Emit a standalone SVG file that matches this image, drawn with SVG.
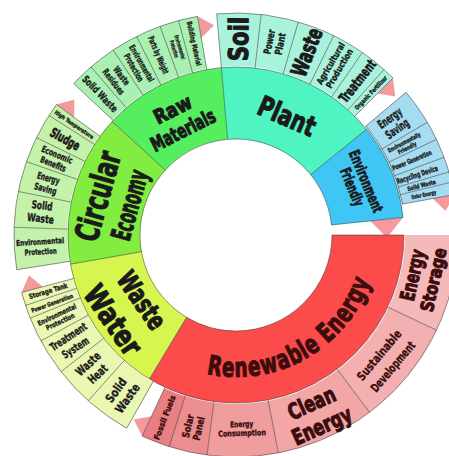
<svg xmlns="http://www.w3.org/2000/svg" width="449" height="456" viewBox="0 0 449 456">
<defs>
<style>
.band{fill:none}
.in{stroke-width:72}
.out{stroke-width:53}
.ol{fill:none;stroke:#2a2a2a;stroke-opacity:.6;stroke-width:.8}
.t{font-family:"Liberation Sans Narrow","DejaVu Sans Condensed","Liberation Sans",sans-serif;font-weight:bold;text-anchor:middle;dominant-baseline:central;fill:#1a1a1a;stroke:#1a1a1a;stroke-width:.35;stroke-linejoin:round}
.r{fill:#3b0d0d;stroke:#3b0d0d}
.big{stroke-width:1.1}
.mid{stroke-width:.7}
.arrow{fill:#f59a9c}
</style>
<path id="re-arc" d="M -46.2,123.6 A 132 132 0 0 0 129.8,24.1"/>
</defs>
<rect width="449" height="456" fill="#fff"/>
<g transform="translate(236,235)">

<!-- pointer tabs at the clockwise end of each ring -->
<g id="connectors">
<polygon class="arrow" points="200,0 222,0 210.5,14.7" transform="rotate(-100)"/>
<polygon class="arrow" points="200,0 222,0 210.5,14.7" transform="rotate(-45)"/>
<polygon class="arrow" points="200,0 222,0 210.5,14.7" transform="rotate(-10.5)"/>
<polygon class="arrow" points="200,0 222,0 210.5,14.7" transform="rotate(115)"/>
<polygon class="arrow" points="200,0 222,0 210.5,14.7" transform="rotate(165)"/>
<polygon class="arrow" points="200,0 222,0 210.5,14.7" transform="rotate(216)"/>
<polygon class="arrow" points="135,0 168,0 149.9,18.4" transform="rotate(-6)"/>
</g>

<!-- inner ring -->
<g id="raw-materials">
<circle class="band in" r="132" pathLength="360" stroke-dasharray="42.5 317.5" transform="rotate(-137.5)" stroke="#55ee5f"/>
<text class="t big" font-size="20" y="-11.5" textLength="40" lengthAdjust="spacingAndGlyphs" transform="rotate(-116.8) translate(129,0) rotate(90)">Raw</text>
<text class="t big" font-size="20" y="11.5" textLength="70" lengthAdjust="spacingAndGlyphs" transform="rotate(-116.8) translate(129,0) rotate(90)">Materials</text>
</g>
<g id="plant">
<circle class="band in" r="132" pathLength="360" stroke-dasharray="56 304" transform="rotate(-95)" stroke="#50f4c2"/>
<text class="t big" font-size="28" textLength="60" lengthAdjust="spacingAndGlyphs" transform="rotate(-66.8) translate(129,0) rotate(90)">Plant</text>
</g>
<g id="environment-friendly">
<circle class="band in" r="132" pathLength="360" stroke-dasharray="33 327" transform="rotate(-39)" stroke="#40c6f4"/>
<text class="t mid" font-size="15" y="-7.5" textLength="66" lengthAdjust="spacingAndGlyphs" transform="rotate(-22.5) translate(133,0) rotate(90)">Environment</text>
<text class="t mid" font-size="15" y="7.5" textLength="40" lengthAdjust="spacingAndGlyphs" transform="rotate(-22.5) translate(133,0) rotate(90)">Friendly</text>
</g>
<g id="renewable-energy">
<circle class="band in" r="132" pathLength="360" stroke-dasharray="121 239" transform="rotate(0)" stroke="#fb4b4b"/>
<text class="t r big" font-size="27" textLength="192" lengthAdjust="spacingAndGlyphs"><textPath href="#re-arc" startOffset="50%">Renewable Energy</textPath></text>
</g>
<g id="waste-water">
<circle class="band in" r="132" pathLength="360" stroke-dasharray="49 311" transform="rotate(121)" stroke="#d6f64f"/>
<text class="t big" font-size="27" y="-17.5" textLength="64" lengthAdjust="spacingAndGlyphs" transform="rotate(145.3) translate(132,0) rotate(-90)">Waste</text>
<text class="t big" font-size="30" y="17.5" textLength="78" lengthAdjust="spacingAndGlyphs" transform="rotate(145.3) translate(132,0) rotate(-90)">Water</text>
</g>
<g id="circular-economy">
<circle class="band in" r="132" pathLength="360" stroke-dasharray="52.5 307.5" transform="rotate(170)" stroke="#82ec40"/>
<text class="t big" font-size="33" y="-16.5" textLength="92" lengthAdjust="spacingAndGlyphs" transform="rotate(195.7) translate(127,0) rotate(90)">Circular</text>
<text class="t big" font-size="27" y="16.5" textLength="72" lengthAdjust="spacingAndGlyphs" transform="rotate(195.7) translate(127,0) rotate(90)">Economy</text>
</g>

<!-- outer ring: raw materials -->
<g id="rm-solid-waste">
<circle class="band out" r="195.5" pathLength="360" stroke-dasharray="6.2 353.8" transform="rotate(-137)" stroke="#aaf0b2"/>
<text class="t" font-size="10" textLength="46" lengthAdjust="spacingAndGlyphs" transform="rotate(-133.9) translate(196,0) rotate(180)">Solid Waste</text>
</g>
<g id="rm-waste-residues">
<circle class="band out" r="195.5" pathLength="360" stroke-dasharray="7.2 352.8" transform="rotate(-130.8)" stroke="#aaf0b2"/>
<text class="t" font-size="9" y="-5" textLength="21" lengthAdjust="spacingAndGlyphs" transform="rotate(-127.2) translate(196,0) rotate(180)">Waste</text>
<text class="t" font-size="9" y="5" textLength="30" lengthAdjust="spacingAndGlyphs" transform="rotate(-127.2) translate(196,0) rotate(180)">Residues</text>
</g>
<g id="rm-environmental-protection">
<circle class="band out" r="195.5" pathLength="360" stroke-dasharray="7 353" transform="rotate(-123.6)" stroke="#aaf0b2"/>
<text class="t" font-size="8.5" y="-4.5" textLength="41" lengthAdjust="spacingAndGlyphs" transform="rotate(-120.1) translate(196,0) rotate(180)">Environmental</text>
<text class="t" font-size="8.5" y="4.5" textLength="31" lengthAdjust="spacingAndGlyphs" transform="rotate(-120.1) translate(196,0) rotate(180)">Protection</text>
</g>
<g id="rm-parts-by-weight">
<circle class="band out" r="195.5" pathLength="360" stroke-dasharray="6.6 353.4" transform="rotate(-116.6)" stroke="#aaf0b2"/>
<text class="t" font-size="8.5" textLength="40" lengthAdjust="spacingAndGlyphs" transform="rotate(-113.3) translate(196,0) rotate(180)">Parts by Weight</text>
</g>
<g id="rm-environmental-protection-2">
<circle class="band out" r="195.5" pathLength="360" stroke-dasharray="5 355" transform="rotate(-110)" stroke="#aaf0b2"/>
<text class="t" font-size="5.5" y="-3" textLength="25" lengthAdjust="spacingAndGlyphs" transform="rotate(-107.5) translate(196,0) rotate(180)">Environmental</text>
<text class="t" font-size="5.5" y="3" textLength="18" lengthAdjust="spacingAndGlyphs" transform="rotate(-107.5) translate(196,0) rotate(180)">Protection</text>
</g>
<g id="rm-building-material">
<circle class="band out" r="195.5" pathLength="360" stroke-dasharray="5 355" transform="rotate(-105)" stroke="#aaf0b2"/>
<text class="t" font-size="7" textLength="45" lengthAdjust="spacingAndGlyphs" transform="rotate(-102.5) translate(196,0) rotate(180)">Building Material</text>
</g>

<!-- outer ring: plant -->
<g id="pl-soil">
<circle class="band out" r="195.5" pathLength="360" stroke-dasharray="11.5 348.5" transform="rotate(-95)" stroke="#a9f3dc"/>
<text class="t big" font-size="27" textLength="44" lengthAdjust="spacingAndGlyphs" transform="rotate(-89.25) translate(196,0)">Soil</text>
</g>
<g id="pl-power-plant">
<circle class="band out" r="195.5" pathLength="360" stroke-dasharray="9.8 350.2" transform="rotate(-83.5)" stroke="#a9f3dc"/>
<text class="t" font-size="10" y="-5.5" textLength="25" lengthAdjust="spacingAndGlyphs" transform="rotate(-78.6) translate(196,0)">Power</text>
<text class="t" font-size="10" y="5.5" textLength="22" lengthAdjust="spacingAndGlyphs" transform="rotate(-78.6) translate(196,0)">Plant</text>
</g>
<g id="pl-waste">
<circle class="band out" r="195.5" pathLength="360" stroke-dasharray="9.8 350.2" transform="rotate(-73.7)" stroke="#a9f3dc"/>
<text class="t big" font-size="22" textLength="50" lengthAdjust="spacingAndGlyphs" transform="rotate(-68.8) translate(196,0)">Waste</text>
</g>
<g id="pl-agricultural-production">
<circle class="band out" r="195.5" pathLength="360" stroke-dasharray="8.6 351.4" transform="rotate(-63.9)" stroke="#a9f3dc"/>
<text class="t" font-size="9" y="-5" textLength="47" lengthAdjust="spacingAndGlyphs" transform="rotate(-59.6) translate(196,0)">Agricultural</text>
<text class="t" font-size="9" y="5" textLength="44" lengthAdjust="spacingAndGlyphs" transform="rotate(-59.6) translate(196,0)">Production</text>
</g>
<g id="pl-treatment">
<circle class="band out" r="195.5" pathLength="360" stroke-dasharray="7.1 352.9" transform="rotate(-55.3)" stroke="#a9f3dc"/>
<text class="t mid" font-size="14" textLength="50" lengthAdjust="spacingAndGlyphs" transform="rotate(-51.75) translate(196,0)">Treatment</text>
</g>
<g id="pl-organic-fertilizer">
<circle class="band out" r="195.5" pathLength="360" stroke-dasharray="3.2 356.8" transform="rotate(-48.2)" stroke="#a9f3dc"/>
<text class="t" font-size="6" textLength="44" lengthAdjust="spacingAndGlyphs" transform="rotate(-46.6) translate(196,0)">Organic Fertilizer</text>
</g>

<!-- outer ring: environment friendly -->
<g id="ef-energy-saving">
<circle class="band out" r="195.5" pathLength="360" stroke-dasharray="9.5 350.5" transform="rotate(-40)" stroke="#a6dcf1"/>
<text class="t" font-size="12" y="-6.5" textLength="27" lengthAdjust="spacingAndGlyphs" transform="rotate(-35.25) translate(193,0)">Energy</text>
<text class="t" font-size="12" y="6.5" textLength="26" lengthAdjust="spacingAndGlyphs" transform="rotate(-35.25) translate(193,0)">Saving</text>
</g>
<g id="ef-environmentally-friendly">
<circle class="band out" r="195.5" pathLength="360" stroke-dasharray="5 355" transform="rotate(-30.5)" stroke="#a6dcf1"/>
<text class="t" font-size="6" y="-3.2" textLength="36" lengthAdjust="spacingAndGlyphs" transform="rotate(-28) translate(192,0)">Environmentally</text>
<text class="t" font-size="6" y="3.2" textLength="20" lengthAdjust="spacingAndGlyphs" transform="rotate(-28) translate(192,0)">Friendly</text>
</g>
<g id="ef-power-generation">
<circle class="band out" r="195.5" pathLength="360" stroke-dasharray="5 355" transform="rotate(-25.5)" stroke="#a6dcf1"/>
<text class="t" font-size="7" textLength="70" lengthAdjust="spacingAndGlyphs" transform="rotate(-23) translate(191,0) scale(0.6,1)">Power Generation</text>
</g>
<g id="ef-recycling-device">
<circle class="band out" r="195.5" pathLength="360" stroke-dasharray="4 356" transform="rotate(-20.5)" stroke="#a6dcf1"/>
<text class="t" font-size="7.5" textLength="70" lengthAdjust="spacingAndGlyphs" transform="rotate(-18.5) translate(191,0) scale(0.614,1)">Recycling Device</text>
</g>
<g id="ef-solid-waste">
<circle class="band out" r="195.5" pathLength="360" stroke-dasharray="2.7 357.3" transform="rotate(-16.5)" stroke="#a6dcf1"/>
<text class="t" font-size="6" textLength="29" lengthAdjust="spacingAndGlyphs" transform="rotate(-15.1) translate(192,0)">Solid Waste</text>
</g>
<g id="ef-solar-energy">
<circle class="band out" r="195.5" pathLength="360" stroke-dasharray="3.3 356.7" transform="rotate(-13.8)" stroke="#a6dcf1"/>
<text class="t" font-size="5.5" textLength="25" lengthAdjust="spacingAndGlyphs" transform="rotate(-12.1) translate(192,0)">Solar Energy</text>
</g>

<!-- outer ring: renewable energy -->
<g id="re-energy-storage">
<circle class="band out" r="195.5" pathLength="360" stroke-dasharray="25.4 334.6" transform="rotate(0)" stroke="#f5b9b9"/>
<text class="t r big" font-size="20" y="-12" textLength="52" lengthAdjust="spacingAndGlyphs" transform="rotate(12.8) translate(193,0) rotate(-90)">Energy</text>
<text class="t r big" font-size="18" y="9.5" textLength="90" lengthAdjust="spacingAndGlyphs" transform="rotate(12.8) translate(193,0) rotate(-90) scale(0.72,1)">Storage</text>
</g>
<g id="re-sustainable-development">
<circle class="band out" r="195.5" pathLength="360" stroke-dasharray="27.6 332.4" transform="rotate(25.4)" stroke="#f4b0b0"/>
<text class="t r" font-size="12" y="-9" textLength="62" lengthAdjust="spacingAndGlyphs" transform="rotate(40) translate(196,0) rotate(-90)">Sustainable</text>
<text class="t r" font-size="12" y="9" textLength="62" lengthAdjust="spacingAndGlyphs" transform="rotate(40) translate(196,0) rotate(-90)">Development</text>
</g>
<g id="re-clean-energy">
<circle class="band out" r="195.5" pathLength="360" stroke-dasharray="26 334" transform="rotate(53)" stroke="#f2a6a6"/>
<text class="t r big" font-size="22" y="-12.5" textLength="50" lengthAdjust="spacingAndGlyphs" transform="rotate(65.8) translate(197,0) rotate(-90)">Clean</text>
<text class="t r big" font-size="22" y="12.5" textLength="63" lengthAdjust="spacingAndGlyphs" transform="rotate(65.8) translate(197,0) rotate(-90)">Energy</text>
</g>
<g id="re-energy-consumption">
<circle class="band out" r="195.5" pathLength="360" stroke-dasharray="18.5 341.5" transform="rotate(79)" stroke="#f09d9e"/>
<text class="t r" font-size="8" y="-4.5" textLength="23" lengthAdjust="spacingAndGlyphs" transform="rotate(88.25) translate(194,0) rotate(-90)">Energy</text>
<text class="t r" font-size="8" y="4.5" textLength="48" lengthAdjust="spacingAndGlyphs" transform="rotate(88.25) translate(194,0) rotate(-90)">Consumption</text>
</g>
<g id="re-solar-panel">
<circle class="band out" r="195.5" pathLength="360" stroke-dasharray="10 350" transform="rotate(97.5)" stroke="#ec8d90"/>
<text class="t r" font-size="10" y="-5.5" textLength="24" lengthAdjust="spacingAndGlyphs" transform="rotate(102.5) translate(197,0) rotate(180)">Solar</text>
<text class="t r" font-size="10" y="5.5" textLength="24" lengthAdjust="spacingAndGlyphs" transform="rotate(102.5) translate(197,0) rotate(180)">Panel</text>
</g>
<g id="re-fossil-fuels">
<circle class="band out" r="195.5" pathLength="360" stroke-dasharray="7.5 352.5" transform="rotate(107.5)" stroke="#e77f83"/>
<text class="t r" font-size="8" textLength="47" lengthAdjust="spacingAndGlyphs" transform="rotate(111.25) translate(196,0) rotate(180)">Fossil Fuels</text>
</g>

<!-- outer ring: waste water -->
<g id="ww-solid-waste">
<circle class="band out" r="195.5" pathLength="360" stroke-dasharray="12.2 347.8" transform="rotate(119.5)" stroke="#e9f7b2"/>
<text class="t" font-size="12" y="-7" textLength="27" lengthAdjust="spacingAndGlyphs" transform="rotate(125.6) translate(196,0) rotate(180)">Solid</text>
<text class="t" font-size="12" y="7" textLength="33" lengthAdjust="spacingAndGlyphs" transform="rotate(125.6) translate(196,0) rotate(180)">Waste</text>
</g>
<g id="ww-waste-heat">
<circle class="band out" r="195.5" pathLength="360" stroke-dasharray="10.3 349.7" transform="rotate(131.7)" stroke="#e9f7b2"/>
<text class="t" font-size="12" y="-7" textLength="29" lengthAdjust="spacingAndGlyphs" transform="rotate(136.85) translate(196,0) rotate(180)">Waste</text>
<text class="t" font-size="12" y="7" textLength="22" lengthAdjust="spacingAndGlyphs" transform="rotate(136.85) translate(196,0) rotate(180)">Heat</text>
</g>
<g id="ww-treatment-system">
<circle class="band out" r="195.5" pathLength="360" stroke-dasharray="9.5 350.5" transform="rotate(142)" stroke="#e9f7b2"/>
<text class="t" font-size="11" y="-6.5" textLength="42" lengthAdjust="spacingAndGlyphs" transform="rotate(146.75) translate(196,0) rotate(180)">Treatment</text>
<text class="t" font-size="11" y="6.5" textLength="30" lengthAdjust="spacingAndGlyphs" transform="rotate(146.75) translate(196,0) rotate(180)">System</text>
</g>
<g id="ww-environmental-protection">
<circle class="band out" r="195.5" pathLength="360" stroke-dasharray="6.5 353.5" transform="rotate(151.5)" stroke="#e9f7b2"/>
<text class="t" font-size="7" y="-3.8" textLength="42" lengthAdjust="spacingAndGlyphs" transform="rotate(154.75) translate(196,0) rotate(180)">Environmental</text>
<text class="t" font-size="7" y="3.8" textLength="31" lengthAdjust="spacingAndGlyphs" transform="rotate(154.75) translate(196,0) rotate(180)">Protection</text>
</g>
<g id="ww-power-generation">
<circle class="band out" r="195.5" pathLength="360" stroke-dasharray="3.5 356.5" transform="rotate(158)" stroke="#e9f7b2"/>
<text class="t" font-size="6" textLength="44" lengthAdjust="spacingAndGlyphs" transform="rotate(159.75) translate(196,0) rotate(180)">Power Generation</text>
</g>
<g id="ww-storage-tank">
<circle class="band out" r="195.5" pathLength="360" stroke-dasharray="3.5 356.5" transform="rotate(161.5)" stroke="#e9f7b2"/>
<text class="t" font-size="7" textLength="40" lengthAdjust="spacingAndGlyphs" transform="rotate(163.25) translate(196,0) rotate(180)">Storage Tank</text>
</g>

<!-- outer ring: circular economy -->
<g id="ce-environmental-protection">
<circle class="band out" r="195.5" pathLength="360" stroke-dasharray="11 349" transform="rotate(171)" stroke="#c5f2aa"/>
<text class="t" font-size="8" y="-5" textLength="48" lengthAdjust="spacingAndGlyphs" transform="rotate(176.5) translate(196,0) rotate(180)">Environmental</text>
<text class="t" font-size="8" y="5" textLength="32" lengthAdjust="spacingAndGlyphs" transform="rotate(176.5) translate(196,0) rotate(180)">Protection</text>
</g>
<g id="ce-solid-waste">
<circle class="band out" r="195.5" pathLength="360" stroke-dasharray="9.3 350.7" transform="rotate(182)" stroke="#c5f2aa"/>
<text class="t" font-size="11" y="-6.5" textLength="21" lengthAdjust="spacingAndGlyphs" transform="rotate(186.65) translate(196,0) rotate(180)">Solid</text>
<text class="t" font-size="11" y="6.5" textLength="27" lengthAdjust="spacingAndGlyphs" transform="rotate(186.65) translate(196,0) rotate(180)">Waste</text>
</g>
<g id="ce-energy-saving">
<circle class="band out" r="195.5" pathLength="360" stroke-dasharray="8 352" transform="rotate(191.3)" stroke="#c5f2aa"/>
<text class="t" font-size="9.5" y="-5.5" textLength="23" lengthAdjust="spacingAndGlyphs" transform="rotate(195.3) translate(196,0) rotate(180)">Energy</text>
<text class="t" font-size="9.5" y="5.5" textLength="23" lengthAdjust="spacingAndGlyphs" transform="rotate(195.3) translate(196,0) rotate(180)">Saving</text>
</g>
<g id="ce-economic-benefits">
<circle class="band out" r="195.5" pathLength="360" stroke-dasharray="6.7 353.3" transform="rotate(199.3)" stroke="#c5f2aa"/>
<text class="t" font-size="9" y="-5" textLength="33" lengthAdjust="spacingAndGlyphs" transform="rotate(202.65) translate(196,0) rotate(180)">Economic</text>
<text class="t" font-size="9" y="5" textLength="27" lengthAdjust="spacingAndGlyphs" transform="rotate(202.65) translate(196,0) rotate(180)">Benefits</text>
</g>
<g id="ce-sludge">
<circle class="band out" r="195.5" pathLength="360" stroke-dasharray="6.6 353.4" transform="rotate(206)" stroke="#c5f2aa"/>
<text class="t mid" font-size="13" textLength="32" lengthAdjust="spacingAndGlyphs" transform="rotate(209.3) translate(196,0) rotate(180)">Sludge</text>
</g>
<g id="ce-high-temperature">
<circle class="band out" r="195.5" pathLength="360" stroke-dasharray="3.4 356.6" transform="rotate(212.6)" stroke="#c5f2aa"/>
<text class="t" font-size="5.5" textLength="46" lengthAdjust="spacingAndGlyphs" transform="rotate(214.3) translate(196,0) rotate(180)">High Temperature</text>
</g>

<!-- segment outlines -->
<g class="ol">
<circle r="96" pathLength="360" stroke-dasharray="354 6" transform="rotate(0)"/>
<circle r="168" pathLength="360" stroke-dasharray="354 6" transform="rotate(0)"/>
<line x1="96" x2="168" transform="rotate(-137.5)"/>
<line x1="96" x2="168" transform="rotate(-95)"/>
<line x1="96" x2="168" transform="rotate(-39)"/>
<line x1="96" x2="168" transform="rotate(-6)"/>
<line x1="96" x2="168" transform="rotate(0)"/>
<line x1="96" x2="168" transform="rotate(121)"/>
<line x1="96" x2="168" transform="rotate(170)"/>

<circle r="222" pathLength="360" stroke-dasharray="37 323" transform="rotate(-137)"/>
<circle r="222" pathLength="360" stroke-dasharray="50 310" transform="rotate(-95)"/>
<circle r="222" pathLength="360" stroke-dasharray="29.5 330.5" transform="rotate(-40)"/>
<circle r="222" pathLength="360" stroke-dasharray="115 245" transform="rotate(0)"/>
<circle r="222" pathLength="360" stroke-dasharray="45.5 314.5" transform="rotate(119.5)"/>
<circle r="222" pathLength="360" stroke-dasharray="45 315" transform="rotate(171)"/>
<circle r="169.5" pathLength="360" stroke-dasharray="29.5 330.5" transform="rotate(-40)"/>

<line x1="168" x2="222" transform="rotate(-137)"/>
<line x1="168" x2="222" transform="rotate(-130.8)"/>
<line x1="168" x2="222" transform="rotate(-123.6)"/>
<line x1="168" x2="222" transform="rotate(-116.6)"/>
<line x1="168" x2="222" transform="rotate(-110)"/>
<line x1="168" x2="222" transform="rotate(-105)"/>
<line x1="168" x2="222" transform="rotate(-100)"/>

<line x1="168" x2="222" transform="rotate(-95)"/>
<line x1="168" x2="222" transform="rotate(-83.5)"/>
<line x1="168" x2="222" transform="rotate(-73.7)"/>
<line x1="168" x2="222" transform="rotate(-63.9)"/>
<line x1="168" x2="222" transform="rotate(-55.3)"/>
<line x1="168" x2="222" transform="rotate(-48.2)"/>
<line x1="168" x2="222" transform="rotate(-45)"/>

<line x1="169" x2="222" transform="rotate(-40)"/>
<line x1="169" x2="222" transform="rotate(-30.5)"/>
<line x1="169" x2="222" transform="rotate(-25.5)"/>
<line x1="169" x2="222" transform="rotate(-20.5)"/>
<line x1="169" x2="222" transform="rotate(-16.5)"/>
<line x1="169" x2="222" transform="rotate(-13.8)"/>
<line x1="169" x2="222" transform="rotate(-10.5)"/>

<line x1="168" x2="222" transform="rotate(25.4)"/>
<line x1="168" x2="222" transform="rotate(53)"/>
<line x1="168" x2="222" transform="rotate(79)"/>
<line x1="168" x2="222" transform="rotate(97.5)"/>
<line x1="168" x2="222" transform="rotate(107.5)"/>
<line x1="168" x2="222" transform="rotate(115)"/>

<line x1="168" x2="222" transform="rotate(119.5)"/>
<line x1="168" x2="222" transform="rotate(131.7)"/>
<line x1="168" x2="222" transform="rotate(142)"/>
<line x1="168" x2="222" transform="rotate(151.5)"/>
<line x1="168" x2="222" transform="rotate(158)"/>
<line x1="168" x2="222" transform="rotate(161.5)"/>
<line x1="168" x2="222" transform="rotate(165)"/>

<line x1="168" x2="222" transform="rotate(171)"/>
<line x1="168" x2="222" transform="rotate(182)"/>
<line x1="168" x2="222" transform="rotate(191.3)"/>
<line x1="168" x2="222" transform="rotate(199.3)"/>
<line x1="168" x2="222" transform="rotate(206)"/>
<line x1="168" x2="222" transform="rotate(212.6)"/>
<line x1="168" x2="222" transform="rotate(216)"/>
</g>
</g>
</svg>
